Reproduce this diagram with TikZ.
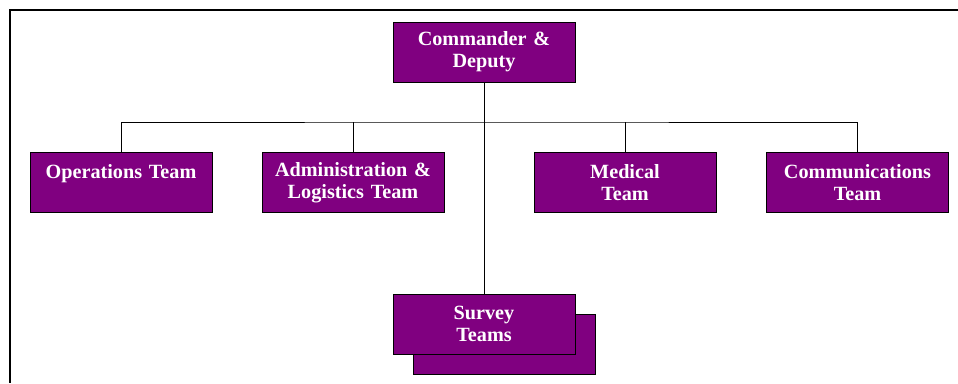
\documentclass[tikz,border=0pt]{standalone}
\usepackage{fontspec}
\setmainfont{Liberation Serif}
\definecolor{boxpurple}{HTML}{800080}
\tikzset{
  orgbox/.style={draw=black, line width=0.8pt, fill=boxpurple, text=white,
    minimum width=182pt, minimum height=60pt, inner sep=0pt, outer sep=0pt,
    align=center, text width=180pt,
    font=\fontsize{20.2}{22}\selectfont\bfseries},
  conn/.style={draw=black, line width=0.9pt},
  frameline/.style={draw=black, line width=2.2pt}
}
\begin{document}
\begin{tikzpicture}[x=1pt,y=-1pt]
\useasboundingbox (0,0) rectangle (958,383);
% frame
\draw[frameline] (9,10) -- (958,10);
\draw[frameline] (10,10) -- (10,383);
% boxes
\node[orgbox] (cmd) at (484,52) {Commander \&\\Deputy};
\node[orgbox] (ops) at (121,182.5) {Operations Team\\~};
\node[orgbox] (adm) at (353,182.5) {Administration \&\\Logistics Team};
\node[orgbox] (med) at (625,182.5) {Medical\\Team};
\node[orgbox] (com) at (857.5,182.5) {Communications\\Team};
\node[orgbox] (svyback) at (504,344) {};
\node[orgbox] (svy) at (484,324) {Survey\\Teams};
% connectors
\coordinate (bus) at (484,122);
\draw[conn] (cmd.south) -- (svy.north);
\draw[conn] (ops.north) |- (bus) -| (com.north);
\draw[conn] (adm.north) -- (adm.north |- bus);
\draw[conn] (med.north) -- (med.north |- bus);
\end{tikzpicture}
\end{document}
